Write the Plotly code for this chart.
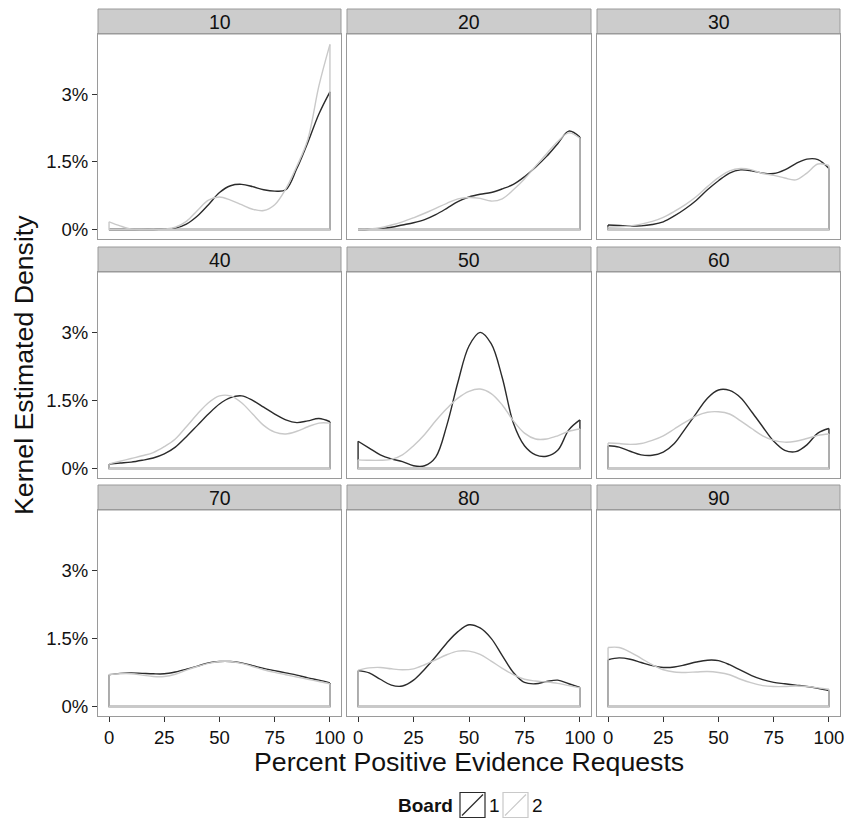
import plotly.graph_objects as go

# ---------------- data (density in %) ----------------
x_grid = [0, 5, 10, 15, 20, 25, 30, 35, 40, 45, 50, 55, 60, 65, 70, 75, 80, 85, 90, 95, 100]
facets = ["10", "20", "30", "40", "50", "60", "70", "80", "90"]
boards = ["1", "2"]

board1_10 = [0.0, 0.0, 0.0, 0.0, 0.0, 0.01, 0.03, 0.12, 0.3, 0.55, 0.82, 0.97, 1.0, 0.95, 0.88, 0.85, 0.88, 1.35, 1.93, 2.56, 3.05]
board2_10 = [0.17, 0.08, 0.01, 0.0, 0.0, 0.01, 0.05, 0.18, 0.42, 0.65, 0.72, 0.65, 0.55, 0.45, 0.42, 0.55, 0.9, 1.4, 2.0, 3.18, 4.1]
board1_20 = [0.0, 0.005, 0.02, 0.05, 0.1, 0.15, 0.22, 0.33, 0.47, 0.62, 0.72, 0.78, 0.82, 0.9, 1.0, 1.17, 1.38, 1.62, 1.9, 2.18, 2.05]
board2_20 = [0.0, 0.01, 0.04, 0.1, 0.17, 0.26, 0.36, 0.47, 0.58, 0.68, 0.71, 0.69, 0.63, 0.68, 0.88, 1.12, 1.4, 1.68, 1.95, 2.14, 2.02]
board1_30 = [0.1, 0.09, 0.08, 0.08, 0.11, 0.17, 0.3, 0.46, 0.65, 0.88, 1.08, 1.25, 1.32, 1.3, 1.25, 1.24, 1.32, 1.46, 1.56, 1.55, 1.35]
board2_30 = [0.05, 0.06, 0.08, 0.12, 0.18, 0.27, 0.4, 0.55, 0.73, 0.95, 1.15, 1.3, 1.35, 1.32, 1.24, 1.2, 1.14, 1.1, 1.25, 1.45, 1.42]
board1_40 = [0.1, 0.12, 0.14, 0.18, 0.23, 0.32, 0.47, 0.7, 0.95, 1.2, 1.42, 1.56, 1.6, 1.5, 1.35, 1.2, 1.07, 1.01, 1.05, 1.1, 1.03]
board2_40 = [0.1, 0.16, 0.22, 0.28, 0.35, 0.48, 0.65, 0.92, 1.2, 1.45, 1.6, 1.6, 1.45, 1.2, 0.95, 0.8, 0.76, 0.82, 0.92, 1.0, 1.0]
board1_50 = [0.6, 0.45, 0.3, 0.21, 0.15, 0.06, 0.06, 0.25, 0.95, 1.9, 2.7, 3.0, 2.75, 2.0, 1.0, 0.5, 0.3, 0.27, 0.4, 0.85, 1.07]
board2_50 = [0.19, 0.18, 0.18, 0.2, 0.3, 0.5, 0.75, 1.05, 1.32, 1.55, 1.7, 1.75, 1.65, 1.4, 1.05, 0.78, 0.65, 0.65, 0.72, 0.82, 0.87]
board1_60 = [0.5, 0.47, 0.38, 0.3, 0.29, 0.36, 0.55, 0.88, 1.22, 1.55, 1.73, 1.72, 1.56, 1.25, 0.92, 0.6, 0.4, 0.37, 0.52, 0.78, 0.88]
board2_60 = [0.56, 0.55, 0.53, 0.55, 0.62, 0.72, 0.87, 1.02, 1.16, 1.24, 1.25, 1.2, 1.05, 0.88, 0.72, 0.62, 0.58, 0.6, 0.66, 0.73, 0.76]
board1_70 = [0.7, 0.73, 0.74, 0.73, 0.72, 0.72, 0.76, 0.82, 0.89, 0.96, 0.99, 0.99, 0.96, 0.9, 0.84, 0.79, 0.74, 0.69, 0.63, 0.58, 0.52]
board2_70 = [0.7, 0.72, 0.72, 0.69, 0.66, 0.66, 0.71, 0.8, 0.88, 0.95, 0.99, 0.99, 0.95, 0.88, 0.81, 0.75, 0.7, 0.65, 0.6, 0.55, 0.5]
board1_80 = [0.79, 0.74, 0.6, 0.47, 0.45, 0.58, 0.82, 1.1, 1.4, 1.65, 1.8, 1.73, 1.5, 1.12, 0.75, 0.53, 0.5, 0.55, 0.58, 0.5, 0.42]
board2_80 = [0.8, 0.85, 0.86, 0.83, 0.81, 0.83, 0.92, 1.03, 1.14, 1.22, 1.22, 1.15, 1.0, 0.84, 0.7, 0.6, 0.56, 0.54, 0.51, 0.46, 0.41]
board1_90 = [1.03, 1.07, 1.04, 0.97, 0.9, 0.86, 0.87, 0.92, 0.98, 1.02, 1.01, 0.92, 0.8, 0.68, 0.59, 0.53, 0.5, 0.47, 0.44, 0.4, 0.35]
board2_90 = [1.3, 1.3, 1.2, 1.06, 0.92, 0.81, 0.76, 0.75, 0.76, 0.77, 0.75, 0.7, 0.6, 0.52, 0.46, 0.44, 0.44, 0.45, 0.44, 0.41, 0.38]

board1_values = [board1_10, board1_20, board1_30, board1_40, board1_50, board1_60, board1_70, board1_80, board1_90]
board2_values = [board2_10, board2_20, board2_30, board2_40, board2_50, board2_60, board2_70, board2_80, board2_90]

x_ticks = [0, 25, 50, 75, 100]
y_ticks = [0, 1.5, 3]
y_tick_labels = ["0%", "1.5%", "3%"]

# ---------------- styling / layout ----------------
W, H = 850, 822
FONT = "Liberation Sans, Arial, Helvetica, sans-serif"
colors = {"1": "#2b2b2b", "2": "#c9c9c9"}
border = "#9a9a9a"
TXT = "#111111"

cols_px = [(98, 341), (347, 591), (597, 840)]
rows_px = [(34, 239), (272, 478), (510, 716)]
strips_px = [(9, 34), (247, 272), (485, 510)]

fig = go.Figure()
layout = dict(
    template="none",
    width=W, height=H,
    margin=dict(l=0, r=0, t=0, b=0, pad=0),
    paper_bgcolor="white", plot_bgcolor="white",
    showlegend=False,
    font=dict(family=FONT, size=18, color=TXT),
)
shapes = []
annotations = []

for i, fac in enumerate(facets):
    r, c = divmod(i, 3)
    xa = "x" if i == 0 else f"x{i+1}"
    ya = "y" if i == 0 else f"y{i+1}"
    xkey = "xaxis" if i == 0 else f"xaxis{i+1}"
    ykey = "yaxis" if i == 0 else f"yaxis{i+1}"
    x0p, x1p = cols_px[c]
    y0p, y1p = rows_px[r]
    layout[xkey] = dict(
        domain=[x0p / W, x1p / W], anchor=ya, range=[-5, 105], automargin=False,
        showgrid=False, zeroline=False, showline=True, mirror=True,
        linecolor=border, linewidth=1,
        tickvals=x_ticks, ticktext=[str(v) for v in x_ticks],
        showticklabels=(r == 2), ticks="outside" if r == 2 else "",
        ticklen=5, tickcolor="#333333", tickwidth=1,
        tickfont=dict(size=18.5, color=TXT),
    )
    layout[ykey] = dict(
        domain=[1 - y1p / H, 1 - y0p / H], anchor=xa, range=[-0.21, 4.33], automargin=False,
        showgrid=False, zeroline=False, showline=True, mirror=True,
        linecolor=border, linewidth=1,
        tickvals=y_ticks, ticktext=y_tick_labels,
        showticklabels=(c == 0), ticks="outside" if c == 0 else "",
        ticklen=5, tickcolor="#333333", tickwidth=1,
        tickfont=dict(size=18.5, color=TXT),
    )
    # strip
    s0, s1 = strips_px[r]
    shapes.append(dict(type="rect", xref="paper", yref="paper",
                       x0=x0p / W, x1=x1p / W, y0=1 - s1 / H, y1=1 - s0 / H,
                       fillcolor="#cccccc", line=dict(color=border, width=1), layer="below"))
    annotations.append(dict(text=fac, xref="paper", yref="paper",
                            x=(x0p + x1p) / 2 / W, y=1 - (s0 + s1) / 2 / H,
                            showarrow=False, xanchor="center", yanchor="middle",
                            font=dict(size=19.5, color=TXT)))
    for b, vals in (("1", board1_values[i]), ("2", board2_values[i])):
        fig.add_trace(go.Scatter(
            x=x_grid, y=vals, mode="lines", xaxis=xa, yaxis=ya,
            line=dict(color=colors[b], width=1.4, shape="spline", smoothing=1.0),
            name=f"Board {b}", hoverinfo="x+y",
        ))
        fig.add_trace(go.Scatter(
            x=[x_grid[-1], x_grid[-1], x_grid[0], x_grid[0]],
            y=[vals[-1], 0, 0, vals[0]], mode="lines", xaxis=xa, yaxis=ya,
            line=dict(color=colors[b], width=1.4), hoverinfo="skip",
        ))

# axis titles
annotations.append(dict(text="Percent Positive Evidence Requests", xref="paper", yref="paper",
                        x=469 / W, y=1 - 762 / H, showarrow=False,
                        xanchor="center", yanchor="middle",
                        font=dict(size=26.7, color=TXT)))
annotations.append(dict(text="Kernel Estimated Density", xref="paper", yref="paper",
                        x=24 / W, y=1 - 365 / H, showarrow=False, textangle=-90,
                        xanchor="center", yanchor="middle",
                        font=dict(size=26.7, color=TXT)))

# legend (drawn manually to mimic ggplot box keys)
ly = 805
annotations.append(dict(text="<b>Board</b>", xref="paper", yref="paper",
                        x=455 / W, y=1 - ly / H, showarrow=False,
                        xanchor="right", yanchor="middle",
                        font=dict(size=19, color=TXT)))
for bx, b in ((460, "1"), (503, "2")):
    shapes.append(dict(type="rect", xref="paper", yref="paper",
                       x0=bx / W, x1=(bx + 25) / W, y0=1 - (ly + 12.5) / H, y1=1 - (ly - 12.5) / H,
                       fillcolor="white", line=dict(color=colors[b], width=1.2)))
    shapes.append(dict(type="line", xref="paper", yref="paper",
                       x0=(bx + 2) / W, x1=(bx + 23) / W, y0=1 - (ly + 10.5) / H, y1=1 - (ly - 10.5) / H,
                       line=dict(color=colors[b], width=1.2)))
    annotations.append(dict(text=b, xref="paper", yref="paper",
                            x=(bx + 27) / W, y=1 - ly / H, showarrow=False,
                            xanchor="left", yanchor="middle",
                            font=dict(size=19, color=TXT)))

layout["shapes"] = shapes
layout["annotations"] = annotations
fig.update_layout(**layout)
fig.write_html("out.html", config={"displayModeBar": False},
               post_script="document.body.style.margin='0';document.body.style.padding='0';")
